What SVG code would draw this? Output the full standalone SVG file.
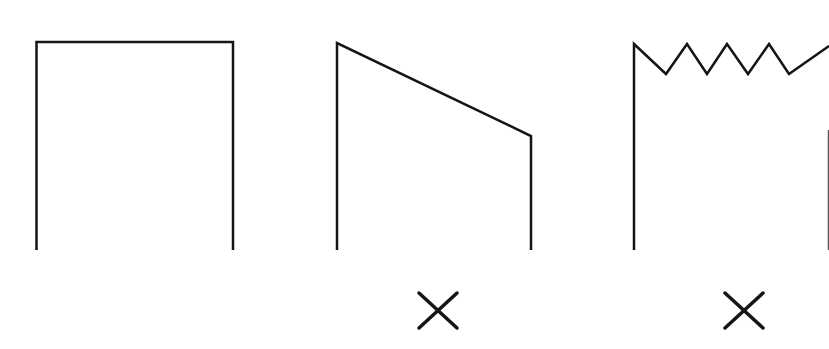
<svg xmlns="http://www.w3.org/2000/svg" width="829" height="349" viewBox="0 0 829 349">
<style>
.s{fill:none;stroke:#151515;stroke-width:2.5;stroke-linejoin:miter;stroke-linecap:butt}
.x{fill:none;stroke:#151515;stroke-width:3.5;stroke-linecap:round}
</style>
<rect width="829" height="349" fill="#ffffff"/>
<g id="shape-flat">
<path class="s" d="M36.5,250 V42 H233 V250"/>
</g>
<g id="shape-slope">
<path class="s" d="M337,250 V43 L531,136 V250"/>
</g>
<g id="shape-zigzag">
<path class="s" d="M634,250 V44 L666,74 L687,44 L707,74 L727,44 L748,74 L769,44 L789,74 L829,46"/>
<path d="M828.5,130 V250" fill="none" stroke="#555" stroke-width="1.5"/>
</g>
<g id="mark-2">
<path class="x" d="M419,293 L457,328 M457,293 L419,328"/>
</g>
<g id="mark-3">
<path class="x" d="M725,293 L763,328 M763,293 L725,328"/>
</g>
</svg>
